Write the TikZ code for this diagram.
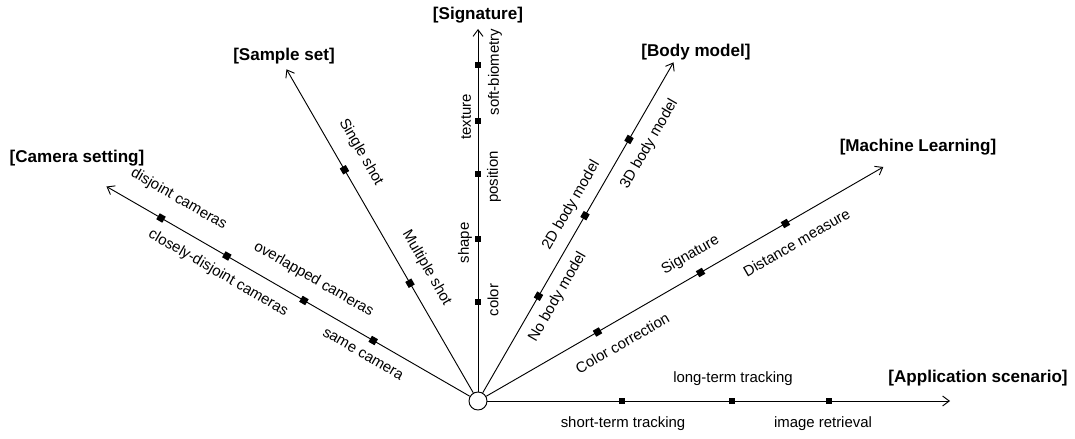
\documentclass[tikz,border=0pt]{standalone}
\usepackage{fontspec}
\setmainfont{Liberation Sans}
\usetikzlibrary{arrows.meta,calc}
\tikzset{
  axisline/.style={line width=0.7pt, -{Straight Barb[length=5pt,width=7.5pt,line width=0.7pt]}},
  mk/.style={rectangle, fill=black, minimum size=5.2pt, inner sep=0pt},
  lab/.style={font=\fontsize{11.2pt}{13pt}\selectfont, inner sep=0pt},
  ttl/.style={font=\fontsize{12.8pt}{15pt}\selectfont\bfseries, inner sep=0pt},
  origin/.style={circle, draw, fill=white, line width=0.7pt, minimum size=13.5pt, inner sep=0pt}
}
% #1 axis angle, #2 distance along, #3 perpendicular offset, #4 text rotation, #5 name, #6 text
\newcommand\axlab[6]{\path (O.center) ++(#1:#2) ++(#1+90:#3) node[lab,rotate=#4] (#5) {#6};}
\newcommand\axmk[3]{\path (O.center) ++(#1:#2) node[mk,rotate=#1] (#3) {};}
\begin{document}
\begin{tikzpicture}[x=0.75pt,y=0.75pt]
\useasboundingbox (0,0) rectangle (1075,439);
\node[origin] (O) at (478,38) {};
% axis tips
\path (O.center) ++(0:472) coordinate (tApp);
\path (O.center) ++(30:468) coordinate (tML);
\path (O.center) ++(60:391) coordinate (tBody);
\path (O.center) ++(90:372) coordinate (tSig);
\path (O.center) ++(120:383) coordinate (tSam);
\path (O.center) ++(150:429) coordinate (tCam);
\foreach \t in {tApp,tML,tBody,tSig,tSam,tCam}{
  \draw[axisline] (O) -- (\t);
}
% markers
\axmk{0}{144}{a1} \axmk{0}{254}{a2} \axmk{0}{351}{a3}
\axmk{30}{138}{m1} \axmk{30}{257}{m2} \axmk{30}{355}{m3}
\axmk{60}{121}{b1} \axmk{60}{214}{b2} \axmk{60}{302}{b3}
\axmk{90}{99}{s1} \axmk{90}{162}{s2} \axmk{90}{227}{s3} \axmk{90}{280}{s4} \axmk{90}{336}{s5}
\axmk{120}{136}{p1} \axmk{120}{267}{p2}
\axmk{150}{121}{c1} \axmk{150}{201}{c2} \axmk{150}{290}{c3} \axmk{150}{366}{c4}
% labels: application scenario
\axlab{0}{145}{-23}{0}{lA1}{short-term tracking}
\axlab{0}{255}{22}{0}{lA2}{long-term tracking}
\axlab{0}{345}{-23}{0}{lA3}{image retrieval}
% machine learning
\axlab{30}{154}{-22}{30}{lM1}{Color correction}
\axlab{30}{257}{20}{30}{lM2}{Signature}
\axlab{30}{355}{-22}{30}{lM3}{Distance measure}
% body model
\axlab{60}{130}{-17}{60}{lB1}{No body model}
\axlab{60}{216}{17}{60}{lB2}{2D body model}
\axlab{60}{308}{-20}{60}{lB3}{3D body model}
% signature
\axlab{90}{101}{-15}{90}{lS1}{color}
\axlab{90}{158}{13}{90}{lS2}{shape}
\axlab{90}{224}{-16}{90}{lS3}{position}
\axlab{90}{284}{12}{90}{lS4}{texture}
\axlab{90}{329}{-17}{90}{lS5}{soft-biometry}
% sample set
\axlab{120}{141}{-22}{-60}{lP1}{Multiple shot}
\axlab{120}{274}{-23}{-60}{lP2}{Single shot}
% camera setting
\axlab{150}{123}{17}{-30}{lC1}{same camera}
\axlab{150}{203}{-23}{-30}{lC2}{overlapped cameras}
\axlab{150}{289}{19}{-30}{lC3}{closely-disjoint cameras}
\axlab{150}{360}{-25}{-30}{lC4}{disjoint cameras}
% titles
\node[ttl] (TCam) at (77,281) {[Camera setting]};
\node[ttl] (TSam) at (284,383) {[Sample set]};
\node[ttl] (TSig) at (478,424) {[Signature]};
\node[ttl] (TBody) at (696,387) {[Body model]};
\node[ttl] (TML) at (918,292) {[Machine Learning]};
\node[ttl] (TApp) at (978,61) {[Application scenario]};
\end{tikzpicture}
\end{document}
